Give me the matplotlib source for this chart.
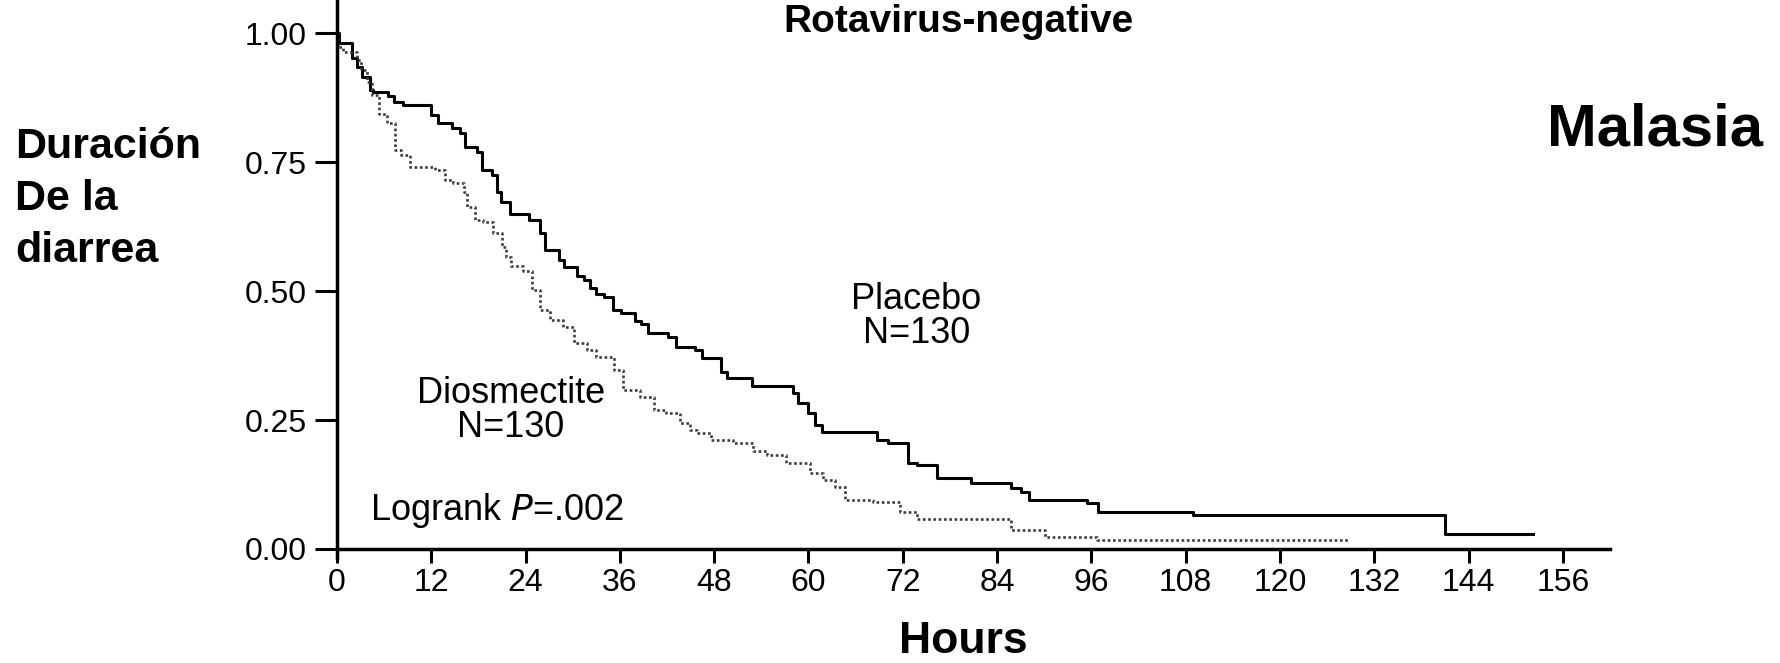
import numpy as np
import matplotlib
matplotlib.use("Agg")
import matplotlib.pyplot as plt

plt.rcParams['font.family'] = ['Liberation Sans', 'DejaVu Sans']

# Kaplan-Meier steps (hours, proportion still with diarrhea)
placebo_t = [0, 0.2, 1.9, 2.5, 3.2, 4.2, 4.6, 6.5, 7.2, 8.4, 12.0, 12.9, 14.6, 15.6,
             16.3, 17.8, 18.4, 19.7, 20.3, 20.9, 22.0, 24.4, 25.8, 26.5, 28.3, 28.9,
             30.5, 31.4, 32.2, 33.0, 34.0, 35.1, 36.2, 37.9, 38.7, 39.6, 42.1, 43.2,
             45.5, 46.4, 48.9, 49.6, 52.8, 58.0, 58.7, 60.0, 60.8, 61.7, 68.7, 70.1,
             72.7, 73.8, 76.3, 80.7, 85.8, 87.1, 88.0, 95.4, 96.8, 108.9, 141.0, 152.2]
placebo_s = [1.0, 0.981, 0.951, 0.935, 0.915, 0.890, 0.886, 0.877, 0.867, 0.860, 0.841,
             0.826, 0.815, 0.806, 0.780, 0.770, 0.734, 0.725, 0.692, 0.673, 0.650, 0.638,
             0.612, 0.579, 0.560, 0.547, 0.530, 0.521, 0.505, 0.495, 0.489, 0.463, 0.457,
             0.441, 0.436, 0.418, 0.411, 0.392, 0.386, 0.370, 0.344, 0.331, 0.315, 0.303,
             0.283, 0.263, 0.240, 0.227, 0.211, 0.205, 0.166, 0.163, 0.137, 0.127, 0.118,
             0.111, 0.095, 0.089, 0.072, 0.066, 0.030, 0.030]

diosm_t = [0, 0.1, 0.8, 2.5, 3.1, 3.8, 4.4, 5.3, 6.3, 7.4, 8.2, 9.3, 12.5, 13.7, 14.8,
           16.1, 16.5, 17.6, 18.6, 19.9, 21.0, 21.5, 22.1, 23.7, 24.8, 25.8, 27.1, 28.8,
           30.1, 31.8, 33.0, 35.2, 36.4, 38.5, 40.3, 41.9, 43.6, 44.9, 45.8, 47.6, 50.4,
           53.0, 54.7, 57.2, 60.2, 61.9, 63.4, 64.6, 68.2, 71.6, 73.8, 85.8, 90.1, 96.7,
           128.9]
diosm_s = [1.0, 0.973, 0.964, 0.948, 0.928, 0.906, 0.880, 0.844, 0.825, 0.773, 0.764,
           0.741, 0.734, 0.715, 0.709, 0.692, 0.663, 0.638, 0.634, 0.612, 0.586, 0.565,
           0.548, 0.538, 0.502, 0.463, 0.444, 0.431, 0.399, 0.386, 0.373, 0.347, 0.308,
           0.295, 0.269, 0.263, 0.244, 0.231, 0.224, 0.211, 0.205, 0.189, 0.182, 0.166,
           0.147, 0.134, 0.121, 0.095, 0.092, 0.072, 0.059, 0.037, 0.024, 0.017, 0.017]

x_ticks = list(range(0, 157, 12))
y_ticks = [0.0, 0.25, 0.50, 0.75, 1.00]
y_ticklabels = ['0.00', '0.25', '0.50', '0.75', '1.00']
ylabel_lines = ['Duración', 'De la', 'diarrea']

W, H = 1781, 663
fig = plt.figure(figsize=(W / 100, H / 100), dpi=100)
ax = fig.add_axes([337 / W, 1 - 549 / H, 1273 / W, 549 / H])

ax.step(placebo_t, placebo_s, where='post', color='black', lw=2.2)
ax.step(diosm_t, diosm_s, where='post', color='#3c3c3c', lw=1.9, linestyle=(0, (1, 1)))

ax.set_xlim(0, 162)
ax.set_ylim(0, 1.064)
ax.set_xticks(x_ticks)
ax.set_yticks(y_ticks)
ax.set_yticklabels(y_ticklabels)

for s in ['top', 'right']:
    ax.spines[s].set_visible(False)
for s in ['left', 'bottom']:
    ax.spines[s].set_linewidth(2.5)
ax.spines['left'].set_bounds(-0.017, 1.064)

ax.tick_params(axis='y', direction='out', length=16, width=2.2, pad=6, labelsize=23)
ax.tick_params(axis='x', direction='out', length=10, width=2.2, pad=4, labelsize=23)

ax.set_title('Rotavirus-negative', fontweight='bold', fontsize=28,
             x=(959 - 337) / 1273, y=(549 - 40) / 549, va='baseline')

ax.set_xlabel('Hours', fontweight='bold', fontsize=32)
ax.xaxis.set_label_coords((963 - 337) / 1273, (549 - 653) / 549)
ax.xaxis.label.set_va('baseline')

# curve annotations
ax.text(73.7, 0.465, 'Placebo', fontsize=26, ha='center', va='baseline')
ax.text(73.7, 0.399, 'N=130', fontsize=26, ha='center', va='baseline')
ax.text(22.1, 0.283, 'Diosmectite', fontsize=26, ha='center', va='baseline')
ax.text(22.1, 0.217, 'N=130', fontsize=26, ha='center', va='baseline')
ax.text(4.2, 0.056, 'Logrank $\\it{P}$=.002', fontsize=26, ha='left', va='baseline')

# side labels
for i, line in enumerate(ylabel_lines):
    fig.text(15 / W, 1 - (158 + 52 * i) / H, line, fontsize=31, fontweight='bold',
             ha='left', va='baseline')
fig.text(1547 / W, 1 - 145 / H, 'Malasia', fontsize=43, fontweight='bold',
         ha='left', va='baseline')

fig.savefig('out.png', dpi=100)
